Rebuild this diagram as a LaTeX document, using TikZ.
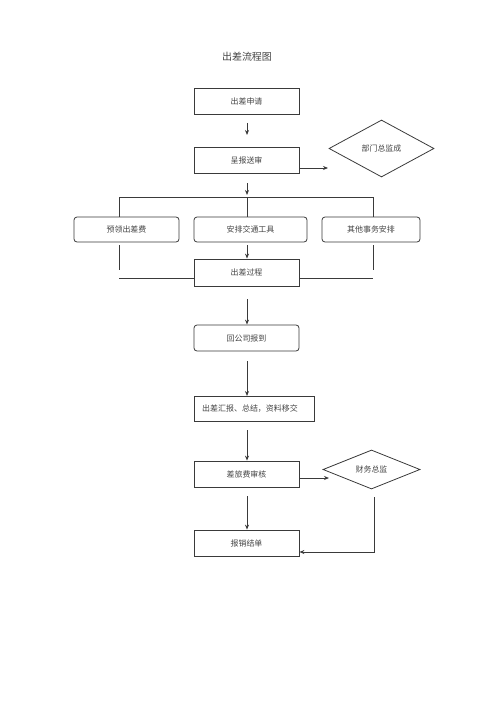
\documentclass[tikz,border=0pt]{standalone}
\usepackage{fontspec}
\setmainfont{Liberation Serif}
\newfontfamily\cjk{Noto Sans CJK SC}
\usetikzlibrary{shapes.geometric,arrows.meta}
\definecolor{ln}{HTML}{3A3A3A}
\definecolor{tx}{HTML}{444444}
\begin{document}
\begin{tikzpicture}[x=1bp,y=-1bp,
  every node/.style={font=\cjk\fontsize{8}{9}\selectfont,text=tx},
  sq/.style={draw=ln,line width=0.8bp,fill=white,minimum width=105bp,minimum height=26bp,inner sep=0pt},
  rd/.style={sq,rounded corners=3bp},
  dm/.style={draw=ln,line width=0.8bp,diamond,aspect=1.9,inner sep=0pt},
  ar/.style={draw=ln,line width=1bp,-{Stealth[length=5bp,width=4bp]}},
  pl/.style={draw=ln,line width=0.8bp}]
\useasboundingbox (0,0) rectangle (500,707);
\node[font=\cjk\fontsize{10}{12}\selectfont] (title) at (247,57) {出差流程图};
\node[sq] (b1) at (246.5,101) {出差申请};
\node[sq] (b2) at (246.5,160) {呈报送审};
\node[dm,minimum width=105bp,minimum height=57bp] (d1) at (381.5,148.5) {部门总监成};
\coordinate (a1s) at (247,123);
\coordinate (a1e) at (247,135);
\draw[ar] (a1s) -- (a1e);
\coordinate (a2s) at (299,168);
\coordinate (a2e) at (328,168);
\draw[ar] (a2s) -- (a2e);
\coordinate (a3s) at (247,183);
\coordinate (a3e) at (247,195);
\draw[ar] (a3s) -- (a3e);
% branch row
\node[rd,minimum width=105bp,minimum height=25bp] (c1) at (126.5,229.5) {预领出差费};
\node[rd,minimum width=113bp,minimum height=25bp] (c2) at (250.5,229.5) {安排交通工具};
\node[rd,minimum width=98bp,minimum height=25bp] (c3) at (371,229.5) {其他事务安排};
\coordinate (hl) at (119,197);
\coordinate (hr) at (373,197);
\draw[pl] (hl) -- (hr);
\draw[pl] (hl) -- (hl |- c1.north);
\draw[pl] (247,197) -- (247,217);
\draw[pl] (hr) -- (hr |- c3.north);
% merge
\node[sq,minimum height=27bp] (b3) at (246.5,272.5) {出差过程};
\coordinate (ml) at (119,278);
\coordinate (mr) at (373,278);
\draw[pl] (119,245) -- (119,270);
\draw[pl] (373,245) -- (373,270);
\draw[pl] (ml) -- (b3.west |- ml);
\draw[pl] (b3.east |- mr) -- (mr);
\coordinate (a4s) at (247,245);
\draw[ar] (a4s) -- (b3.north -| a4s);
% lower part
\node[rd] (b4) at (246.5,338) {回公司报到};
\coordinate (a5s) at (247,299);
\draw[ar] (a5s) -- (b4.north -| a5s);
\node[sq,minimum width=120bp,minimum height=25bp] (b5) at (254,408.5) {\hspace*{-8bp}出差汇报、总结，资料移交};
\coordinate (a6s) at (247,361);
\draw[ar] (a6s) -- (247,396);
\node[sq] (b6) at (246.5,474) {差旅费审核};
\coordinate (a7s) at (247,430);
\draw[ar] (a7s) -- (b6.north -| a7s);
\node[dm,minimum width=97bp,minimum height=39bp,aspect=2.5] (d2) at (371.5,469.5) {财务总监};
\coordinate (a8s) at (299,478);
\coordinate (a8e) at (329,478);
\draw[ar] (a8s) -- (a8e);
\node[sq] (b7) at (246.5,543) {报销结单};
\coordinate (a9s) at (247,496);
\draw[ar] (a9s) -- (b7.north -| a9s);
\coordinate (r1) at (374,497);
\coordinate (r2) at (374,552);
\draw[ar] (r1) -- (r2) -- (b7.east |- r2);
\end{tikzpicture}
\end{document}
